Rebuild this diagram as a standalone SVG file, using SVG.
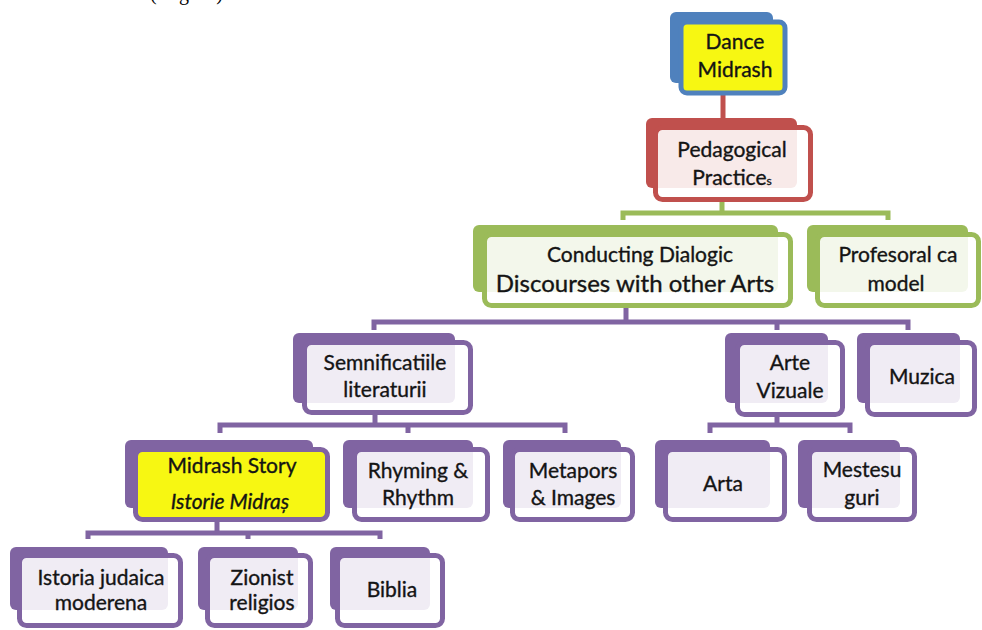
<svg xmlns="http://www.w3.org/2000/svg" width="982" height="630" viewBox="0 0 982 630">
<style>
.t{font-family:Lato,"Liberation Sans",sans-serif;font-size:21px;fill:#141414;stroke:#141414;stroke-width:0.35;text-anchor:middle}
.big{font-size:24px}
.it{font-style:italic}
.conn{fill:none;stroke-width:5;stroke-linejoin:miter}
.bk{stroke:none}
.fr{stroke-width:5;fill:#fff;fill-opacity:0.88}
.blue .bk{fill:#4f81bd}.blue .fr{stroke:#4f81bd}
.red .bk{fill:#c0504d}.red .fr{stroke:#c0504d}
.green .bk{fill:#9bbb59}.green .fr{stroke:#9bbb59}
.purple .bk{fill:#8064a2}.purple .fr{stroke:#8064a2}
.yel .fr{fill:#f7f712;fill-opacity:1}
</style>
<text x="150" y="0" font-family="Liberation Serif,serif" font-size="20" fill="#000" textLength="73">(Fig. 1)</text>
<g id="connectors">
<path class="conn" stroke="#c0504d" d="M723,95 V119"/>
<path class="conn" stroke="#9bbb59" d="M722,202 V213 M623,220 V213 H888 V220"/>
<path class="conn" stroke="#8064a2" d="M626,308 V322 M374,330 V322 H908 V330 M777,322 V330"/>
<path class="conn" stroke="#8064a2" d="M375,415 V425 M220,433 V425 H565 V433 M408,425 V433"/>
<path class="conn" stroke="#8064a2" d="M777,417 V425 M710,433 V425 H850 V433"/>
<path class="conn" stroke="#8064a2" d="M217,522 V533 M88,539 V533 H380 V539 M248,533 V539"/>
</g>
<g id="dance-midrash" class="blue yel">
<rect class="bk" x="670" y="12" width="103" height="71" rx="6"/>
<rect class="fr" x="681" y="22" width="104" height="71" rx="6"/>
<text class="t" x="735" y="49">Dance</text>
<text class="t" x="735" y="77">Midrash</text>
</g>
<g id="pedagogical" class="red">
<rect class="bk" x="646" y="118" width="151" height="70" rx="6"/>
<rect class="fr" x="655.5" y="127.5" width="155" height="72" rx="7" fill-opacity="0.86"/>
<text class="t" x="732" y="157">Pedagogical</text>
<text class="t" x="732" y="185">Practice<tspan font-size="12">s</tspan></text>
</g>
<g id="conducting" class="green">
<rect class="bk" x="473" y="225" width="305" height="67" rx="6"/>
<rect class="fr" x="484.5" y="234.5" width="306" height="71" rx="7"/>
<text class="t" x="640" y="262">Conducting  Dialogic</text>
<text class="t big" x="635" y="292">Discourses with other Arts</text>
</g>
<g id="profesoral" class="green">
<rect class="bk" x="807" y="225" width="161" height="67" rx="6"/>
<rect class="fr" x="817.5" y="234.5" width="161" height="71" rx="7"/>
<text class="t" x="898" y="262">Profesoral ca</text>
<text class="t" x="896" y="291">model</text>
</g>
<g id="semnificatiile" class="purple">
<rect class="bk" x="293" y="333" width="162" height="70" rx="6"/>
<rect class="fr" x="304.5" y="342.5" width="166" height="70" rx="7"/>
<text class="t" x="385" y="370">Semnificatiile</text>
<text class="t" x="385" y="397">literaturii</text>
</g>
<g id="arte-vizuale" class="purple">
<rect class="bk" x="725" y="333" width="103" height="70" rx="6"/>
<rect class="fr" x="737.5" y="342.5" width="105" height="72" rx="7"/>
<text class="t" x="790" y="370">Arte</text>
<text class="t" x="790" y="398">Vizuale</text>
</g>
<g id="muzica" class="purple">
<rect class="bk" x="857" y="333" width="103" height="70" rx="6"/>
<rect class="fr" x="867.5" y="342.5" width="107" height="72" rx="7"/>
<text class="t" x="922" y="384">Muzica</text>
</g>
<g id="midrash-story" class="purple yel">
<rect class="bk" x="125" y="440" width="188" height="68" rx="6"/>
<rect class="fr" x="135.5" y="449.5" width="192" height="70" rx="7"/>
<text class="t" x="232" y="473">Midrash Story</text>
<text class="t it" x="230" y="509">Istorie Midraș</text>
</g>
<g id="rhyming" class="purple">
<rect class="bk" x="343" y="440" width="130" height="68" rx="6"/>
<rect class="fr" x="354.5" y="449.5" width="133" height="70" rx="7"/>
<text class="t" x="418" y="478">Rhyming &amp;</text>
<text class="t" x="418" y="505">Rhythm</text>
</g>
<g id="metapors" class="purple">
<rect class="bk" x="503" y="440" width="118" height="68" rx="6"/>
<rect class="fr" x="512.5" y="449.5" width="120" height="70" rx="7"/>
<text class="t" x="573" y="478">Metapors</text>
<text class="t" x="573" y="505">&amp; Images</text>
</g>
<g id="arta" class="purple">
<rect class="bk" x="655" y="440" width="115" height="68" rx="6"/>
<rect class="fr" x="665.5" y="449.5" width="119" height="70" rx="7"/>
<text class="t" x="723" y="491">Arta</text>
</g>
<g id="mestesuguri" class="purple">
<rect class="bk" x="798" y="440" width="102" height="68" rx="6"/>
<rect class="fr" x="809.5" y="449.5" width="105" height="70" rx="7"/>
<text class="t" x="862" y="477">Mestesu</text>
<text class="t" x="862" y="505">guri</text>
</g>
<g id="istoria" class="purple">
<rect class="bk" x="10" y="547" width="158" height="63" rx="6"/>
<rect class="fr" x="19.5" y="555.5" width="161" height="70" rx="7"/>
<text class="t" x="101" y="585">Istoria judaica</text>
<text class="t" x="101" y="610">moderena</text>
</g>
<g id="zionist" class="purple">
<rect class="bk" x="198" y="547" width="100" height="63" rx="6"/>
<rect class="fr" x="207.5" y="555.5" width="103" height="70" rx="7"/>
<text class="t" x="262" y="585">Zionist</text>
<text class="t" x="262" y="610">religios</text>
</g>
<g id="biblia" class="purple">
<rect class="bk" x="330" y="547" width="100" height="63" rx="6"/>
<rect class="fr" x="337.5" y="555.5" width="105" height="70" rx="7"/>
<text class="t" x="392" y="597">Biblia</text>
</g>
</svg>
